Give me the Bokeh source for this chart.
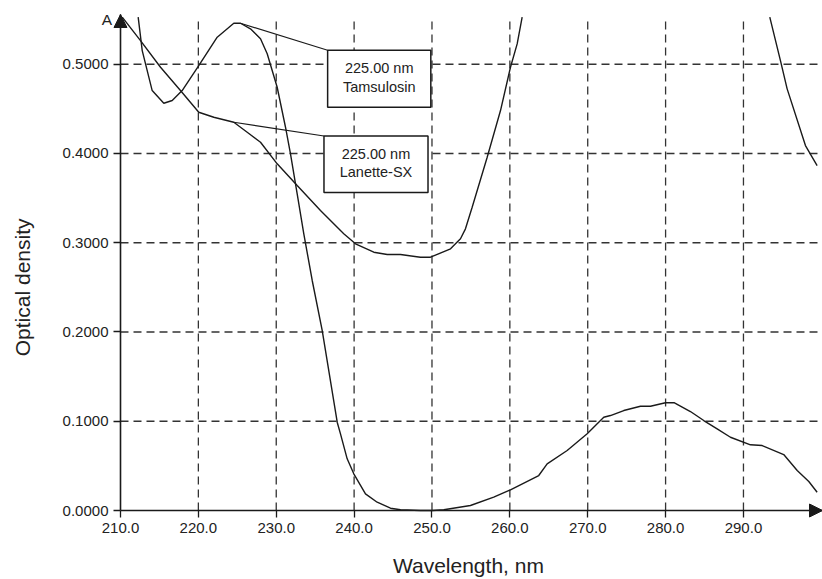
from bokeh.plotting import figure
from bokeh.models import (Range1d, FixedTicker, PrintfTickFormatter, Arrow, NormalHead,
                          Label, BoxAnnotation)
from bokeh.embed import file_html
from bokeh.resources import INLINE

# ---- data ----
tams_x = [212.27, 212.79, 214.07, 215.56, 216.64, 217.92, 220.05, 222.42, 224.55, 225.41,
          226.69, 227.98, 228.84, 230.12, 231.19, 231.83, 232.69, 233.54, 234.62, 235.90,
          237.83, 238.25, 239.11, 239.96, 241.46, 242.96, 244.67, 245.96, 248.52, 250.06,
          251.52, 254.94, 257.93, 260.08, 263.71, 264.79, 267.36, 269.93, 272.06, 272.92,
          274.63, 276.77, 278.06, 279.98, 281.14, 283.19, 284.90, 286.62, 288.33, 290.90,
          292.40, 295.17, 296.90, 298.39, 299.46]
tams_y = [0.5527, 0.5153, 0.4705, 0.4563, 0.4594, 0.4705, 0.4985, 0.5303, 0.5459, 0.5459,
          0.5397, 0.5285, 0.5117, 0.4742, 0.4294, 0.3996, 0.3548, 0.3100, 0.2577, 0.2017,
          0.0989, 0.0859, 0.0579, 0.0411, 0.0187, 0.0093, 0.0026, 0.0008, 0.0000, 0.0000,
          0.0008, 0.0056, 0.0149, 0.0232, 0.0392, 0.0523, 0.0672, 0.0859, 0.1045, 0.1064,
          0.1120, 0.1168, 0.1168, 0.1207, 0.1207, 0.1109, 0.1008, 0.0915, 0.0821, 0.0736,
          0.0728, 0.0627, 0.0448, 0.0325, 0.0205]

lan_x_left = [210.22, 212.57, 215.14, 217.70, 220.05, 221.98, 224.55, 226.27, 227.98, 230.12,
              232.69, 235.68, 238.67, 240.18, 242.53, 244.25, 245.96, 248.52, 249.81, 252.38,
              253.66, 254.30, 255.16, 257.09, 258.80, 260.08, 260.94, 261.58]
lan_y_left = [0.5527, 0.5265, 0.4966, 0.4705, 0.4462, 0.4406, 0.4350, 0.4238, 0.4126, 0.3884,
              0.3641, 0.3361, 0.3100, 0.2988, 0.2894, 0.2868, 0.2868, 0.2838, 0.2838, 0.2932,
              0.3044, 0.3156, 0.3398, 0.3958, 0.4481, 0.4966, 0.5228, 0.5527]
lan_x_right = [293.38, 294.75, 295.61, 297.96, 299.46]
lan_y_right = [0.5527, 0.5041, 0.4724, 0.4089, 0.3865]

x_ticks = [210, 220, 230, 240, 250, 260, 270, 280, 290]
y_ticks = [0.0, 0.1, 0.2, 0.3, 0.4, 0.5]

callouts = [
    # name, wavelength text, point on curve (x,y), box (left,right,top,bottom)
    ("Tamsulosin", "225.00 nm", (225.41, 0.5459), (236.6, 249.85, 0.5157, 0.4518)),
    ("Lanette-SX", "225.00 nm", (224.55, 0.4350), (236.13, 249.49, 0.4196, 0.3562)),
]

X_AXIS0, X_AXIS1 = 210.0, 300.15     # drawn x axis (to arrow tip)
Y_AXIS0, Y_AXIS1 = 0.0, 0.5557       # drawn y axis (to arrow tip)
GRID_TOP = 0.551
FONT = "Liberation Sans"
INK = "#1a1a1a"
TXT = "#222222"

p = figure(width=822, height=579, output_backend="svg", toolbar_location=None,
           x_range=Range1d(194.59, 300.15), y_range=Range1d(-0.0773, 0.5714),
           min_border_left=0, min_border_right=0, min_border_top=0, min_border_bottom=0)
p.outline_line_color = None
p.background_fill_color = "white"
p.border_fill_color = "white"
p.grid.visible = False

# custom dashed grid that stops at the axes
p.segment(x0=x_ticks[1:], y0=[Y_AXIS0] * 8, x1=x_ticks[1:], y1=[GRID_TOP] * 8,
          line_color="#333333", line_dash="8 5", line_width=1.3)
p.segment(x0=[X_AXIS0] * 5, y0=y_ticks[1:], x1=[X_AXIS1] * 5, y1=y_ticks[1:],
          line_color="#333333", line_dash="8 5", line_width=1.3)

for ax in (p.xaxis[0], p.yaxis[0]):
    ax.axis_line_color = INK
    ax.axis_line_width = 1.6
    ax.major_tick_line_color = INK
    ax.major_tick_line_width = 1.3
    ax.major_tick_out = 7
    ax.major_tick_in = 0
    ax.minor_tick_line_color = None
    ax.major_label_text_font = FONT
    ax.major_label_text_font_size = "15px"
    ax.major_label_text_color = TXT

p.xaxis.fixed_location = 0
p.yaxis.fixed_location = 210
p.xaxis.bounds = (X_AXIS0, X_AXIS1)
p.yaxis.bounds = (Y_AXIS0, Y_AXIS1)
p.xaxis.ticker = FixedTicker(ticks=x_ticks)
p.yaxis.ticker = FixedTicker(ticks=y_ticks)
p.xaxis.formatter = PrintfTickFormatter(format="%.1f")
p.yaxis.formatter = PrintfTickFormatter(format="%.4f")
p.xaxis.major_label_standoff = 5
p.yaxis.major_label_standoff = 5

p.line(tams_x, tams_y, line_color=INK, line_width=1.4)
p.line(lan_x_left, lan_y_left, line_color=INK, line_width=1.4)
p.line(lan_x_right, lan_y_right, line_color=INK, line_width=1.4)

for name, wl, (cx, cy), (bl, br, bt, bb) in callouts:
    p.line([cx, bl], [cy, bt], line_color=INK, line_width=1.2)
    p.add_layout(BoxAnnotation(left=bl, right=br, top=bt, bottom=bb, fill_color="white",
                               fill_alpha=1.0, line_color=INK, line_alpha=1.0, line_width=1.5,
                               level="overlay"))
    mx = (bl + br) / 2
    h = bt - bb
    p.add_layout(Label(x=mx, y=bt - h * 0.32, text=wl, text_align="center", text_baseline="middle",
                       text_font=FONT, text_font_size="14.5px", text_color=TXT, level="overlay"))
    p.add_layout(Label(x=mx, y=bt - h * 0.64, text=name, text_align="center", text_baseline="middle",
                       text_font=FONT, text_font_size="14.5px", text_color=TXT, level="overlay"))

# axis arrow heads
p.add_layout(Arrow(end=NormalHead(size=13, fill_color=INK, line_color=INK),
                   x_start=X_AXIS0, y_start=0.545, x_end=X_AXIS0, y_end=Y_AXIS1,
                   line_color=INK, line_width=1.6))
p.add_layout(Arrow(end=NormalHead(size=13, fill_color=INK, line_color=INK),
                   x_start=299.0, y_start=Y_AXIS0, x_end=X_AXIS1, y_end=Y_AXIS0,
                   line_color=INK, line_width=1.6))

# axis titles
p.add_layout(Label(x=208.25, y=0.550, text="A", text_align="center", text_baseline="middle",
                   text_font=FONT, text_font_size="15.5px", text_color=TXT))
p.add_layout(Label(x=197.42, y=0.25, text="Optical density", text_align="center",
                   text_baseline="middle", angle=1.5708, text_font=FONT, text_font_size="21px",
                   text_color=TXT))
p.add_layout(Label(x=254.68, y=-0.0616, text="Wavelength, nm", text_align="center",
                   text_baseline="middle", text_font=FONT, text_font_size="21px",
                   text_color=TXT))

open("out.html", "w").write(file_html(p, INLINE))
